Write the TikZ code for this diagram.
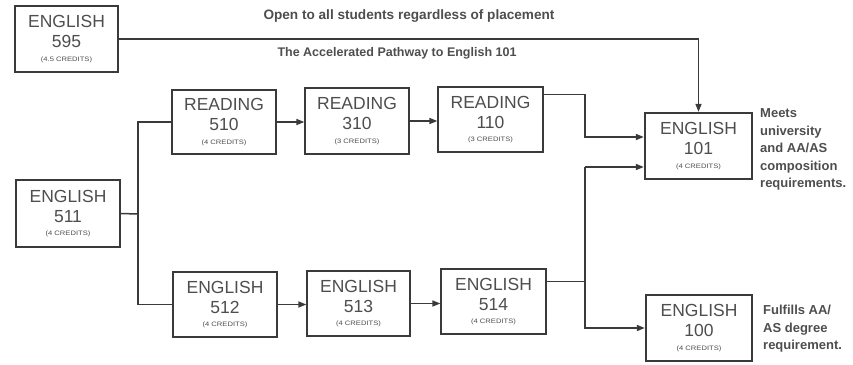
\documentclass[tikz,border=0pt]{standalone}
\usepackage{fontspec}
\usepackage{graphicx}
\setmainfont{Liberation Sans}
\usetikzlibrary{arrows.meta}
\definecolor{ln}{HTML}{3A3A3A}
\definecolor{tx}{HTML}{4E4E4E}
\newcommand\crs[3]{#1\\#2\\[-6.5pt]{\fontsize{8}{9}\selectfont\scalebox{0.95}[0.8]{#3}}}
\begin{document}
\begin{tikzpicture}[x=1pt,y=-1pt,
  box/.style={draw=ln, line width=1.3pt, fill=white, text=tx, align=center,
    font=\fontsize{17.5}{20}\selectfont,
    minimum width=104pt, minimum height=65pt, inner sep=0pt},
  bigbox/.style={box, line width=2.3pt},
  conn/.style={draw=ln, line width=1.5pt},
  arr/.style={-{Triangle[length=8pt,width=6pt]}},
  note/.style={text=tx, font=\bfseries\fontsize{13}{17.5}\selectfont, align=left, inner sep=0pt, anchor=north west},
  head/.style={text=tx, font=\bfseries\fontsize{13.6}{14}\selectfont, inner sep=0pt}]
\useasboundingbox (0,0) rectangle (853,364);
\fill[white] (0,0) rectangle (853,364);

\node[box, minimum width=103pt, minimum height=66pt] (e595) at (66.5,39) {\crs{ENGLISH}{595}{(4.5 CREDITS)}};
\node[box, minimum height=67pt] (e511) at (68,213.5) {\crs{ENGLISH}{511}{(4 CREDITS)}};
\node[box, minimum height=64pt] (r510) at (224,122) {\crs{READING}{510}{(4 CREDITS)}};
\node[box, minimum height=66pt] (r310) at (357,121) {\crs{READING}{310}{(3 CREDITS)}};
\node[box, minimum width=105pt] (r110) at (490.5,119.5) {\crs{READING}{110}{(3 CREDITS)}};
\node[box] (e512) at (225,304.5) {\crs{ENGLISH}{512}{(4 CREDITS)}};
\node[box, minimum width=103pt] (e513) at (358.5,303.5) {\crs{ENGLISH}{513}{(4 CREDITS)}};
\node[box, minimum width=105pt] (e514) at (493.5,301.5) {\crs{ENGLISH}{514}{(4 CREDITS)}};
\node[bigbox, minimum width=107pt, minimum height=66pt] (e101) at (698.5,146) {\crs{ENGLISH}{101}{(4 CREDITS)}};
\node[bigbox, minimum width=106pt, minimum height=66pt] (e100) at (699,328) {\crs{ENGLISH}{100}{(4 CREDITS)}};

\node[head] (t1) at (409,16) {Open to all students regardless of placement};
\node[head, font=\bfseries\fontsize{12.5}{14}\selectfont] (t2) at (397,53) {The Accelerated Pathway to English 101};

\node[note] (n101) at (760,108.5) {Meets\\university\\and AA/AS\\composition\\requirements.};
\node[note] (n100) at (763,305) {Fulfills AA/\\AS degree\\requirement.};

% connectors
\draw[conn,arr] (e595.east) -| (e101.north);
\coordinate (j) at (138,214);
\draw[conn] (e511.east) -- (j);
\draw[conn] (r510.west) -| (j) |- (e512.west);
\draw[conn,arr] (r510.east) -- (r510.east -| r310.west);
\draw[conn,arr] (r310.east) -- (r310.east -| r110.west);
\draw[conn,arr] (e512.east) -- (e512.east -| e513.west);
\draw[conn,arr] (e513.east) -- (e513.east -| e514.west);
\coordinate (m1) at (585,137);
\draw[conn,arr] ([yshift=-8pt]r110.north east) -| (m1) -- (m1 -| e101.west);
\coordinate (bus) at (585,167);
\draw[conn,arr] (bus) -- (bus -| e101.west);
\draw[conn] ([yshift=-13pt]e514.north east) -| (bus);
\draw[conn,arr] (bus) |- (e100.west);
\end{tikzpicture}
\end{document}
